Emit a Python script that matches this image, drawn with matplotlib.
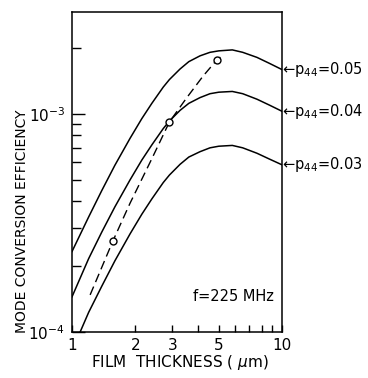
import matplotlib
matplotlib.use("Agg")
import matplotlib.pyplot as plt
from matplotlib.ticker import FixedLocator, FixedFormatter, NullFormatter

# film thickness (um) where the curves were read
thickness = [1.0, 1.2, 1.385, 1.6, 1.89, 2.15, 2.4, 2.72, 2.91, 3.27, 3.6,
             4.07, 4.54, 5.0, 5.8, 6.5, 7.6, 8.7, 10.0]

eff_p005 = [2.34e-4, 3.37e-4, 4.45e-4, 5.82e-4, 7.74e-4, 9.53e-4, 1.12e-3, 1.33e-3, 1.44e-3, 1.61e-3, 1.74e-3,
            1.85e-3, 1.92e-3, 1.95e-3, 1.97e-3, 1.92e-3, 1.82e-3, 1.71e-3, 1.60e-3]
eff_p004 = [1.45e-4, 2.17e-4, 2.87e-4, 3.75e-4, 4.99e-4, 6.15e-4, 7.22e-4, 8.58e-4, 9.29e-4, 1.04e-3, 1.12e-3,
            1.19e-3, 1.24e-3, 1.26e-3, 1.27e-3, 1.24e-3, 1.17e-3, 1.10e-3, 1.03e-3]
eff_p003 = [8.2e-5, 1.23e-4, 1.62e-4, 2.12e-4, 2.82e-4, 3.47e-4, 4.08e-4, 4.85e-4, 5.25e-4, 5.88e-4, 6.35e-4,
            6.72e-4, 7.0e-4, 7.12e-4, 7.18e-4, 7.0e-4, 6.61e-4, 6.22e-4, 5.85e-4]

curve_labels = ["0.05", "0.04", "0.03"]

# dashed curve (measured) and its open circles
dash_x = [1.22, 1.567, 1.89, 2.4, 2.91, 3.5, 4.2, 4.89, 5.25]
dash_y = [1.48e-4, 2.62e-4, 3.9e-4, 6.24e-4, 9.2e-4, 1.18e-3, 1.49e-3, 1.77e-3, 1.87e-3]
meas_x = [1.567, 2.91, 4.89]
meas_y = [2.62e-4, 9.2e-4, 1.77e-3]

xticks = [1, 2, 3, 5, 10]
xticklabels = ["1", "2", "3", "5", "10"]
xminor = [4, 6, 7, 8, 9]
yticks = [1e-4, 1e-3]
yticklabels = ["$10^{-4}$", "$10^{-3}$"]
yminor = [2e-4, 3e-4, 4e-4, 5e-4, 6e-4, 7e-4, 8e-4, 9e-4, 2e-3]

fig = plt.figure(figsize=(3.68, 3.78), dpi=100)
ax = fig.add_axes([72/368, 1-332/378, 210/368, 320/378])

for eff in [eff_p005, eff_p004, eff_p003]:
    ax.plot(thickness, eff, color='black', lw=1.1)

ax.plot(dash_x, dash_y, color='black', lw=1.0, dashes=(6.5, 3.5))
ax.plot(meas_x, meas_y, 'o', ms=5, mfc='white', mec='black', mew=1.0)

ax.set_xscale('log')
ax.set_yscale('log')
ax.set_xlim(1, 10)
ax.set_ylim(1e-4, 2.94e-3)

ax.xaxis.set_major_locator(FixedLocator(xticks))
ax.xaxis.set_major_formatter(FixedFormatter(xticklabels))
ax.xaxis.set_minor_locator(FixedLocator(xminor))
ax.xaxis.set_minor_formatter(NullFormatter())
ax.yaxis.set_major_locator(FixedLocator(yticks))
ax.yaxis.set_major_formatter(FixedFormatter(yticklabels))
ax.yaxis.set_minor_locator(FixedLocator(yminor))
ax.yaxis.set_minor_formatter(NullFormatter())

ax.tick_params(axis='x', which='both', direction='in', length=5, width=1.0,
               labelsize=11, pad=4, top=False)
ax.tick_params(axis='y', which='major', direction='in', length=9.5, width=1.0,
               labelsize=11, pad=5, right=False)
ax.tick_params(axis='y', which='minor', direction='in', length=6.5, width=1.0, right=False)
for s in ax.spines.values():
    s.set_linewidth(1.1)

for eff, lab in zip([eff_p005, eff_p004, eff_p003], curve_labels):
    ax.text(10.05, eff[-1], "\u2190p$_{44}$=" + lab, fontsize=10.5,
            ha='left', va='center', clip_on=False)

ax.text(0.96, 0.11, "f=225 MHz", transform=ax.transAxes, ha='right', va='center', fontsize=10.5)

fig.text(22/368, 1-221/378, "MODE CONVERSION EFFICIENCY", rotation=90,
         ha='center', va='center', fontsize=10)
fig.text(180/368, 1-362/378, "FILM  THICKNESS ( $\\mu$m)", ha='center', va='center', fontsize=11)

fig.savefig("out.png", dpi=100)
